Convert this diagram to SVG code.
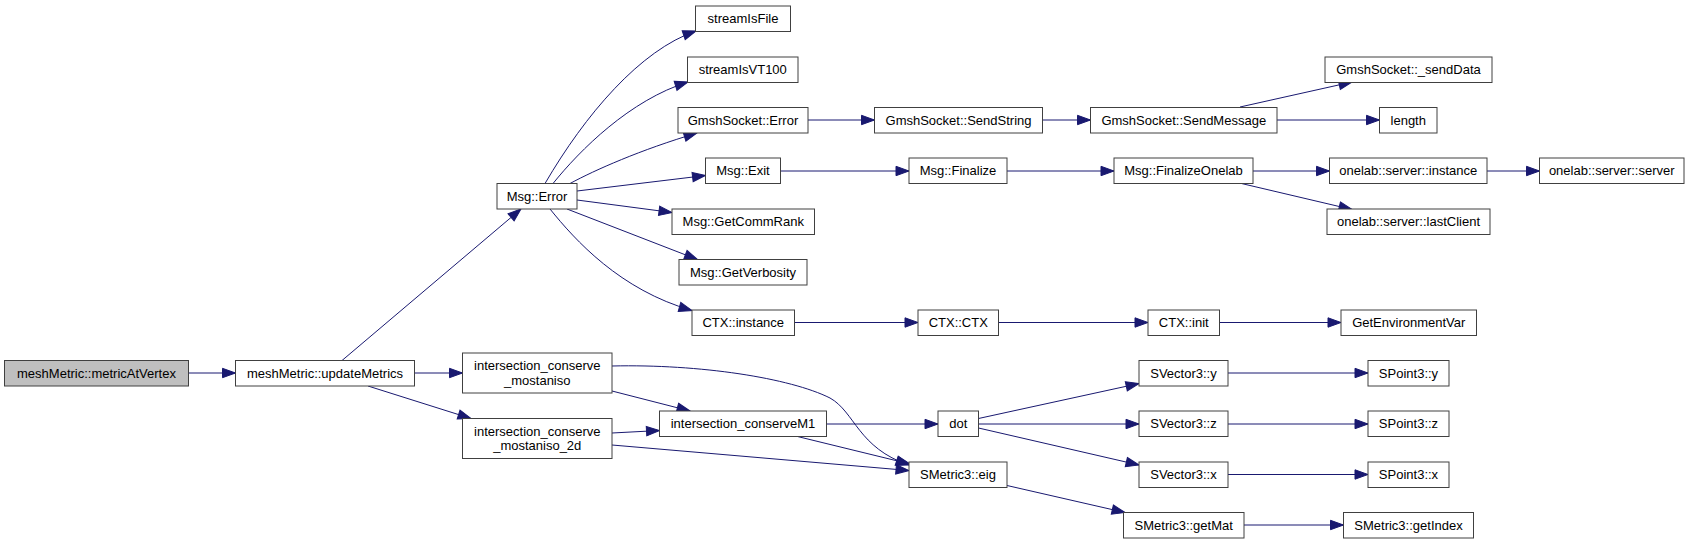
<svg xmlns="http://www.w3.org/2000/svg" width="1689" height="544" viewBox="0 0 1689 544">
<style>
.n rect{fill:#ffffff;stroke:#404040;stroke-width:1}
.n.root rect{fill:#bfbfbf}
.n text{font-family:"Liberation Sans",Arial,Helvetica,sans-serif;font-size:13px;fill:#000000;text-anchor:middle}
#edges path{fill:none;stroke:#191970;stroke-width:1;marker-end:url(#ah)}
</style>
<defs>
<marker id="ah" markerUnits="userSpaceOnUse" markerWidth="14" markerHeight="11" refX="13" refY="5" orient="auto" overflow="visible">
<path d="M0,0.3 L13,5 L0,9.7 z" fill="#191970" stroke="#191970" stroke-width="1"/>
</marker>
</defs>
<rect width="1689" height="544" fill="#ffffff"/>
<g id="edges">
<path d="M188.5,373 L235.5,373"/>
<path d="M342,360.5 L521,209"/>
<path d="M414.5,373 L462.5,373"/>
<path d="M368,386 L471,418.5"/>
<path d="M612,391 L690,411"/>
<path d="M612,366 C700,364 790,378 830,398 C855,412 858,448 909,465"/>
<path d="M612,433 L659.5,430.5"/>
<path d="M612,445 L909,470.5"/>
<path d="M826.5,424 L938,424"/>
<path d="M797.5,436.5 L910,464"/>
<path d="M978.5,418.5 L1139,383.5"/>
<path d="M978.5,424 L1139,424"/>
<path d="M978.5,428 L1139,465"/>
<path d="M1007,485.5 L1125,512.5"/>
<path d="M1228,373 L1368,373"/>
<path d="M1228,424 L1368,424"/>
<path d="M1228,474.5 L1368,474.5"/>
<path d="M1244,525 L1343.5,525"/>
<path d="M794.5,322.5 L918,322.5"/>
<path d="M998.5,322.5 L1148,322.5"/>
<path d="M1219.5,322.5 L1341,322.5"/>
<path d="M545,183.5 C585,115 640,50 696,31"/>
<path d="M553,183.5 C580,150 630,100 688,82"/>
<path d="M570,183.5 C595,170 640,150 697,133"/>
<path d="M577,191 L705.5,175.5"/>
<path d="M577,200 L672,212.5"/>
<path d="M567,209 L697.5,259.5"/>
<path d="M550,209 C575,240 620,290 692,310.5"/>
<path d="M808,120 L874.5,120"/>
<path d="M1042.5,120 L1090.5,120"/>
<path d="M1240,107 L1352,82"/>
<path d="M1277,120 L1379.5,120"/>
<path d="M780.5,171 L909,171"/>
<path d="M1007,171 L1114,171"/>
<path d="M1253,171 L1329.5,171"/>
<path d="M1241.5,183.5 L1352,209.5"/>
<path d="M1487,171 L1539.5,171"/>
</g>
<g id="n0" class="n root"><rect x="4.5" y="360.5" width="184" height="25.5"/><text x="96.5" y="377.5">meshMetric::metricAtVertex</text></g>
<g id="n1" class="n"><rect x="235.5" y="360.5" width="179" height="25.5"/><text x="325" y="377.5">meshMetric::updateMetrics</text></g>
<g id="n2" class="n"><rect x="497" y="183.5" width="80" height="25.5"/><text x="537" y="200.5">Msg::Error</text></g>
<g id="n3" class="n"><rect x="695.5" y="6" width="95" height="25.5"/><text x="743" y="23">streamIsFile</text></g>
<g id="n4" class="n"><rect x="687.5" y="57" width="110.5" height="25.5"/><text x="742.75" y="74">streamIsVT100</text></g>
<g id="n5" class="n"><rect x="678" y="107.5" width="130" height="25.5"/><text x="743" y="124.5">GmshSocket::Error</text></g>
<g id="n6" class="n"><rect x="874.5" y="107.5" width="168" height="25.5"/><text x="958.5" y="124.5">GmshSocket::SendString</text></g>
<g id="n7" class="n"><rect x="1090.5" y="107.5" width="186.5" height="25.5"/><text x="1183.75" y="124.5">GmshSocket::SendMessage</text></g>
<g id="n8" class="n"><rect x="1325" y="57" width="167" height="25.5"/><text x="1408.5" y="74">GmshSocket::_sendData</text></g>
<g id="n9" class="n"><rect x="1379.5" y="107.5" width="57.5" height="25.5"/><text x="1408.25" y="124.5">length</text></g>
<g id="n10" class="n"><rect x="705.5" y="158" width="75" height="25.5"/><text x="743" y="175">Msg::Exit</text></g>
<g id="n11" class="n"><rect x="909" y="158" width="98" height="25.5"/><text x="958" y="175">Msg::Finalize</text></g>
<g id="n12" class="n"><rect x="1114" y="158" width="139" height="25.5"/><text x="1183.5" y="175">Msg::FinalizeOnelab</text></g>
<g id="n13" class="n"><rect x="1329.5" y="158" width="157.5" height="25.5"/><text x="1408.25" y="175">onelab::server::instance</text></g>
<g id="n14" class="n"><rect x="1539.5" y="158" width="144.5" height="25.5"/><text x="1611.75" y="175">onelab::server::server</text></g>
<g id="n15" class="n"><rect x="1327" y="209" width="163" height="25.5"/><text x="1408.5" y="226">onelab::server::lastClient</text></g>
<g id="n16" class="n"><rect x="672" y="209" width="142.5" height="25.5"/><text x="743.25" y="226">Msg::GetCommRank</text></g>
<g id="n17" class="n"><rect x="679" y="259.5" width="128" height="25.5"/><text x="743" y="276.5">Msg::GetVerbosity</text></g>
<g id="n18" class="n"><rect x="692" y="310" width="102.5" height="25.5"/><text x="743.25" y="327">CTX::instance</text></g>
<g id="n19" class="n"><rect x="918" y="310" width="80.5" height="25.5"/><text x="958.25" y="327">CTX::CTX</text></g>
<g id="n20" class="n"><rect x="1148" y="310" width="71.5" height="25.5"/><text x="1183.75" y="327">CTX::init</text></g>
<g id="n21" class="n"><rect x="1341" y="310" width="135.5" height="25.5"/><text x="1408.75" y="327">GetEnvironmentVar</text></g>
<g id="n22" class="n"><rect x="462.5" y="353" width="149.5" height="40"/><text x="537.25" y="370">intersection_conserve</text><text x="537.25" y="384.5">_mostaniso</text></g>
<g id="n23" class="n"><rect x="462.5" y="418.5" width="149.5" height="40"/><text x="537.25" y="435.5">intersection_conserve</text><text x="537.25" y="450">_mostaniso_2d</text></g>
<g id="n24" class="n"><rect x="659.5" y="411" width="167" height="25.5"/><text x="743" y="428">intersection_conserveM1</text></g>
<g id="n25" class="n"><rect x="938" y="411" width="40.5" height="25.5"/><text x="958.25" y="428">dot</text></g>
<g id="n26" class="n"><rect x="909" y="462" width="98" height="25.5"/><text x="958" y="479">SMetric3::eig</text></g>
<g id="n27" class="n"><rect x="1139" y="360.5" width="89" height="25.5"/><text x="1183.5" y="377.5">SVector3::y</text></g>
<g id="n28" class="n"><rect x="1368" y="360.5" width="81" height="25.5"/><text x="1408.5" y="377.5">SPoint3::y</text></g>
<g id="n29" class="n"><rect x="1139" y="411" width="89" height="25.5"/><text x="1183.5" y="428">SVector3::z</text></g>
<g id="n30" class="n"><rect x="1368" y="411" width="81" height="25.5"/><text x="1408.5" y="428">SPoint3::z</text></g>
<g id="n31" class="n"><rect x="1139" y="462" width="89" height="25.5"/><text x="1183.5" y="479">SVector3::x</text></g>
<g id="n32" class="n"><rect x="1368" y="462" width="81" height="25.5"/><text x="1408.5" y="479">SPoint3::x</text></g>
<g id="n33" class="n"><rect x="1123.5" y="512.5" width="120.5" height="25.5"/><text x="1183.75" y="529.5">SMetric3::getMat</text></g>
<g id="n34" class="n"><rect x="1343.5" y="512.5" width="130" height="25.5"/><text x="1408.5" y="529.5">SMetric3::getIndex</text></g>
</svg>
